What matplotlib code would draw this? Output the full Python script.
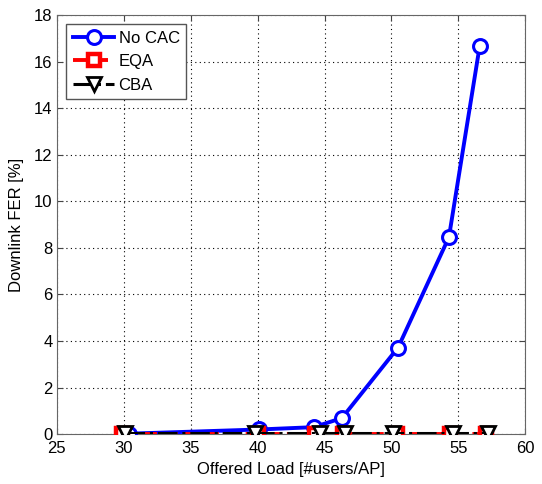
import matplotlib
matplotlib.use('Agg')
import matplotlib.pyplot as plt

plt.rcParams['font.family'] = ['Liberation Sans', 'DejaVu Sans']

# offered load per scheme and downlink frame error rate (%)
load_nocac = [30.4, 40.1, 44.2, 46.3, 50.5, 54.3, 56.6]
fer_nocac = [0.02, 0.2, 0.3, 0.69, 3.72, 8.46, 16.67]

load_eqa = [29.9, 40.0, 44.3, 46.4, 50.4, 54.4, 57.1]
fer_eqa = [0.0, 0.0, 0.0, 0.0, 0.0, 0.0, 0.0]

load_cba = [30.1, 39.8, 44.7, 46.5, 50.1, 54.6, 57.2]
fer_cba = [0.03, 0.03, 0.03, 0.03, 0.03, 0.03, 0.03]

fig = plt.figure(figsize=(5.42, 4.84), dpi=100)
ax = fig.add_axes([0.105, 0.103, 0.864, 0.866])

ax.plot(load_nocac, fer_nocac, '-o', color='blue', lw=2.8, ms=10,
        mfc='white', mew=2.2, label='No CAC', zorder=3)
ax.plot(load_eqa, fer_eqa, '--s', color='red', lw=2.8, ms=8,
        mfc='white', mew=3.2, label='EQA', zorder=4)
ax.plot(load_cba, fer_cba, '-.v', color='black', lw=2.2, ms=10,
        mfc='white', mew=2, label='CBA', zorder=5)

ax.set_xlim(25, 60)
ax.set_ylim(0, 18)
ax.set_xticks(range(25, 61, 5))
ax.set_yticks(range(0, 19, 2))
ax.grid(True, color='black', linestyle=(0, (1, 3)), linewidth=0.8)
ax.tick_params(labelsize=12, direction='in', length=4, color='#444444',
               top=True, right=True)
ax.tick_params(axis='x', pad=5)
ax.tick_params(axis='y', pad=3)
for s in ax.spines.values():
    s.set_color('#666666')
ax.set_xlabel('Offered Load [#users/AP]', fontsize=12, labelpad=4)
ax.set_ylabel('Downlink FER [%]', fontsize=12, labelpad=7)

leg = ax.legend(loc='upper left', fontsize=12, handlelength=2.5,
                fancybox=False, framealpha=1, borderpad=0.4,
                labelspacing=0.5, handletextpad=0.25, borderaxespad=0.55)
leg.get_frame().set_edgecolor('#555555')
leg.get_frame().set_linewidth(1.0)

fig.savefig('out.png', dpi=100)
